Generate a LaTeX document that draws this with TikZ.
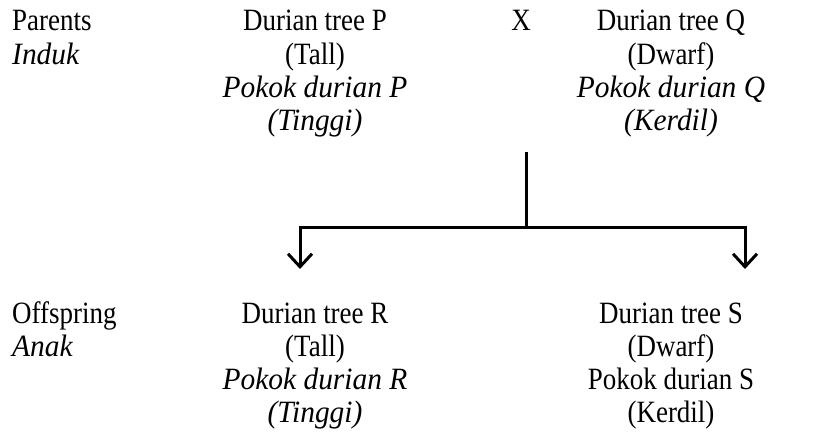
\documentclass[tikz,border=0pt]{standalone}
\usepackage{fontspec}
\setmainfont{Liberation Serif}[UprightFeatures={FakeStretch=0.87},ItalicFeatures={FakeStretch=0.95}]
\usetikzlibrary{arrows.meta}

\begin{document}
\begin{tikzpicture}[x=1pt,y=-1pt,font=\fontsize{31}{33}\selectfont,
    word/.style={inner sep=0pt,anchor=base},
    side/.style={inner sep=0pt,anchor=base west},
    link/.style={line width=3pt},
    tip/.style={link,-{Straight Barb[length=13pt,width=24pt]}}]
    \useasboundingbox (0,0) rectangle (816,444);

    % row titles
    \node[side] (parents) at (12,31) {Parents};
    \node[side] (induk) at (12,64) {\textit{Induk}};
    \node[side] (offspring) at (12,323) {Offspring};
    \node[side] (anak) at (12,356) {\textit{Anak}};

    \node[word] (cross) at (521,31) {X};

    % the four trees
    \foreach \t [count=\i] in {Durian tree P, (Tall), \textit{Pokok durian P}, \textit{(Tinggi)}} {
        \node[word] (P\i) at (315,-2+33*\i) {\t};
    }
    \foreach \t [count=\i] in {Durian tree Q, (Dwarf), \textit{Pokok durian Q}, \textit{(Kerdil)}} {
        \node[word] (Q\i) at (671,-2+33*\i) {\t};
    }
    \foreach \t [count=\i] in {Durian tree R, (Tall), \textit{Pokok durian R}, \textit{(Tinggi)}} {
        \node[word] (R\i) at (315,290+33*\i) {\t};
    }
    \foreach \t [count=\i] in {Durian tree S, (Dwarf), Pokok durian S, (Kerdil)} {
        \node[word] (S\i) at (671,290+33*\i) {\t};
    }

    % crossing lines
    \coordinate (stem) at (526,152);
    \coordinate (join) at (526,227);
    \coordinate (toR) at (300,227);
    \coordinate (toS) at (745,227);
    \coordinate (endR) at (300,269);
    \coordinate (endS) at (745,269);
    \draw[link] (stem) -- (join);
    \draw[link,line cap=rect] (toR) -- (toS);
    \draw[tip] (toR) -- (endR);
    \draw[tip] (toS) -- (endS);
\end{tikzpicture}
\end{document}
